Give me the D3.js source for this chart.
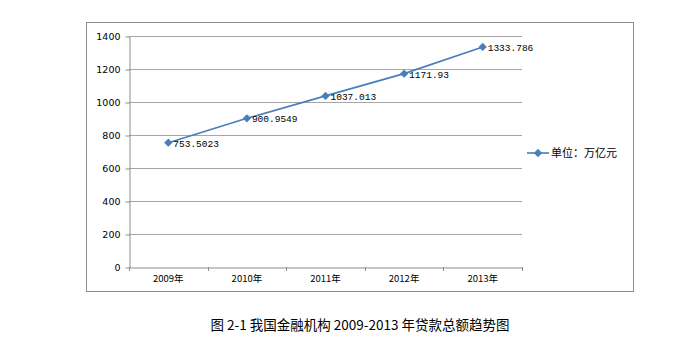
<!DOCTYPE html>
<html>
<head>
<meta charset="utf-8">
<script src="https://cdn.jsdelivr.net/npm/d3@7"></script>
<style>
  body { margin: 0; background: #fff; }
  svg { display: block; }
</style>
</head>
<body>
<div id="chart"></div>
<script>
// data
var years = ["2009年", "2010年", "2011年", "2012年", "2013年"];
var loans = [753.5023, 900.9549, 1037.013, 1171.93, 1333.786];
var loanLabels = ["753.5023", "900.9549", "1037.013", "1171.93", "1333.786"];
var yTicks = [0, 200, 400, 600, 800, 1000, 1200, 1400];
var seriesName = "单位：万亿元";
var caption = "图 2-1 我国金融机构 2009-2013 年贷款总额趋势图";

var W = 697, H = 362;
var plot = {left: 129, right: 522, top: 36, bottom: 267};

var svg = d3.select("#chart")
  .append("svg")
    .attr("width", W)
    .attr("height", H);

// outer chart border
svg.append("rect")
  .attr("x", 86.5).attr("y", 22.5)
  .attr("width", 547).attr("height", 269)
  .attr("fill", "none")
  .attr("stroke", "#8c8c8c")
  .attr("stroke-width", 1);

var x = d3.scaleBand()
  .domain(years)
  .range([plot.left, plot.right]);

var y = d3.scaleLinear()
  .domain([0, 1400])
  .range([plot.bottom, plot.top]);

// gridlines
svg.append("g")
  .selectAll("line")
  .data(yTicks.filter(function(d) { return d > 0; }))
  .enter()
  .append("line")
    .attr("x1", plot.left)
    .attr("x2", plot.right)
    .attr("y1", function(d) { return Math.round(y(d)) + 0.5; })
    .attr("y2", function(d) { return Math.round(y(d)) + 0.5; })
    .attr("stroke", "#a6a6a6");

// Y axis
var yAxis = svg.append("g")
  .attr("transform", "translate(" + (plot.left + 0.5) + ",0.5)")
  .call(d3.axisLeft(y).tickValues(yTicks).tickFormat(d3.format("d"))
    .tickSize(4).tickSizeOuter(0).tickPadding(5));
yAxis.select(".domain").attr("stroke", "#8c8c8c");
yAxis.selectAll(".tick line").attr("stroke", "#8c8c8c");
yAxis.selectAll("text")
  .attr("fill", "#000")
  .style("font-family", "'DejaVu Sans', sans-serif")
  .style("font-size", "9.5px");

// X axis
var xAxis = svg.append("g")
  .attr("transform", "translate(0," + (plot.bottom + 0.5) + ")")
  .call(d3.axisBottom(x).tickSize(0).tickPadding(8));
xAxis.select(".domain").attr("stroke", "#8c8c8c");
xAxis.selectAll("text")
  .attr("fill", "#000")
  .style("font-family", "'Noto Sans CJK SC', sans-serif")
  .style("font-size", "9.5px");
// tick marks at the band edges
svg.append("g")
  .selectAll("line")
  .data(years.concat(["end"]))
  .enter()
  .append("line")
    .attr("x1", function(d, i) { return Math.round(plot.left + i * x.step()) + 0.5; })
    .attr("x2", function(d, i) { return Math.round(plot.left + i * x.step()) + 0.5; })
    .attr("y1", plot.bottom)
    .attr("y2", plot.bottom + 4)
    .attr("stroke", "#8c8c8c");

var cx = function(d, i) { return x(years[i]) + x.bandwidth() / 2; };

// line
var line = d3.line()
  .x(function(d, i) { return cx(d, i); })
  .y(function(d) { return y(d); });

svg.append("path")
  .datum(loans)
  .attr("d", line)
  .attr("fill", "none")
  .attr("stroke", "#4a7ebb")
  .attr("stroke-width", 1.6);

var diamond = d3.symbol().type(d3.symbolDiamond2).size(44);

svg.append("g")
  .selectAll("path")
  .data(loans)
  .enter()
  .append("path")
    .attr("d", diamond)
    .attr("transform", function(d, i) { return "translate(" + cx(d, i) + "," + y(d) + ")"; })
    .attr("fill", "#4a7ebb");

// data labels
svg.append("g")
  .selectAll("text")
  .data(loans)
  .enter()
  .append("text")
    .attr("x", function(d, i) { return cx(d, i) + 5; })
    .attr("y", function(d) { return y(d) + 4; })
    .style("font-family", "'Liberation Mono', 'DejaVu Sans Mono', monospace")
    .style("font-size", "9.5px")
    .attr("fill", "#000")
    .text(function(d, i) { return loanLabels[i]; });

// legend
var lg = svg.append("g").attr("transform", "translate(527,153)");
lg.append("line")
  .attr("x1", 0).attr("x2", 22)
  .attr("stroke", "#4a7ebb").attr("stroke-width", 1.6);
lg.append("path")
  .attr("d", diamond)
  .attr("transform", "translate(11,0)")
  .attr("fill", "#4a7ebb");
lg.append("text")
  .attr("x", 24).attr("y", 4)
  .style("font-family", "'Noto Sans CJK SC', sans-serif")
  .style("font-size", "11px")
  .attr("fill", "#000")
  .text(seriesName);

// caption
svg.append("text")
  .attr("x", 360).attr("y", 330)
  .attr("text-anchor", "middle")
  .style("font-family", "'Noto Sans CJK SC', sans-serif")
  .style("font-size", "13.5px")
  .attr("fill", "#000")
  .text(caption);
</script>
</body>
</html>
